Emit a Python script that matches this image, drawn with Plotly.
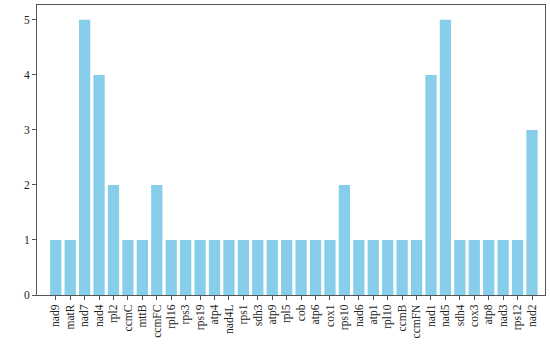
import plotly.graph_objects as go

genes = ["nad9", "matR", "nad7", "nad4", "rpl2", "ccmC", "mttB", "ccmFC", "rpl16", "rps3",
         "rps19", "atp4", "nad4L", "rps1", "sdh3", "atp9", "rpl5", "cob", "atp6", "cox1",
         "rps10", "nad6", "atp1", "rpl10", "ccmB", "ccmFN", "nad1", "nad5", "sdh4", "cox3",
         "atp8", "nad3", "rps12", "nad2"]
counts = [1, 1, 5, 4, 2, 1, 1, 2, 1, 1,
          1, 1, 1, 1, 1, 1, 1, 1, 1, 1,
          2, 1, 1, 1, 1, 1, 4, 5, 1, 1,
          1, 1, 1, 3]

fig = go.Figure(go.Bar(x=genes, y=counts, marker=dict(color="#87CEEB", line=dict(width=0)),
                       width=0.78))

fig.update_layout(
    width=550, height=344,
    margin=dict(l=37, r=5, t=5, b=49, autoexpand=False),
    plot_bgcolor="white", paper_bgcolor="white",
    font=dict(family="Liberation Serif", size=11, color="#222"),
    showlegend=False,
)
fig.update_xaxes(range=[-1.3, 33.9], showline=True, linecolor="#555", linewidth=1, mirror=True,
                 ticks="outside", ticklen=4, tickcolor="#555", tickangle=-90, showgrid=False,
                 tickfont=dict(size=11.5))
fig.update_yaxes(range=[0, 5.27], showline=True, linecolor="#555", linewidth=1, mirror=True,
                 ticks="outside", ticklen=4, tickcolor="#555", showgrid=False, zeroline=False,
                 tickvals=[0, 1, 2, 3, 4, 5], tickfont=dict(size=11.5))

fig.write_html("out.html", config={"displayModeBar": False},
               post_script="document.body.style.margin='0';document.body.style.overflow='hidden';")
